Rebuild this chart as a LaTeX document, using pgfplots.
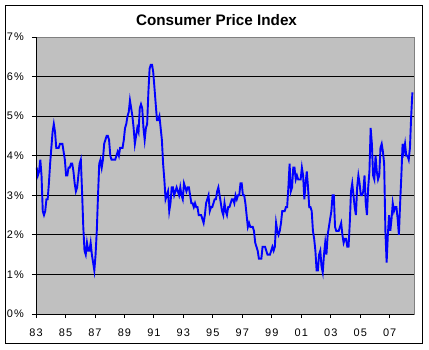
\documentclass[border=0pt]{standalone}
\usepackage{fontspec}
\setmainfont{Liberation Sans}
\newfontfamily\tickfont[LetterSpace=10]{Liberation Sans}
\usepackage{pgfplots}
\usepackage{pgfplotstable}
\pgfplotsset{compat=1.18}
\definecolor{plotgray}{RGB}{192,192,192}
\definecolor{bordergray}{RGB}{128,128,128}
\pgfplotstableread[row sep=\\]{
v\\
3.7\\3.5\\3.6\\3.9\\3.5\\2.6\\2.5\\2.6\\2.9\\2.9\\3.3\\3.8\\
4.2\\4.6\\4.8\\4.6\\4.2\\4.2\\4.2\\4.3\\4.3\\4.3\\4.1\\3.9\\
3.5\\3.5\\3.7\\3.7\\3.8\\3.8\\3.6\\3.3\\3.1\\3.2\\3.5\\3.8\\
3.9\\3.1\\2.2\\1.6\\1.5\\1.8\\1.6\\1.6\\1.8\\1.5\\1.3\\1.1\\
1.5\\2.1\\3.0\\3.8\\3.9\\3.7\\3.9\\4.3\\4.4\\4.5\\4.5\\4.4\\
4.0\\3.9\\3.9\\3.9\\3.9\\4.0\\4.1\\4.0\\4.2\\4.2\\4.2\\4.4\\
4.7\\4.8\\5.0\\5.1\\5.4\\5.2\\5.0\\4.7\\4.3\\4.5\\4.7\\4.6\\
5.2\\5.3\\5.2\\4.7\\4.4\\4.7\\4.8\\5.6\\6.2\\6.3\\6.3\\6.1\\
5.7\\5.3\\4.9\\4.9\\5.0\\4.7\\4.4\\3.8\\3.4\\2.9\\3.0\\3.1\\
2.6\\2.8\\3.2\\3.2\\3.0\\3.1\\3.2\\3.1\\3.0\\3.2\\3.0\\2.9\\
3.3\\3.2\\3.1\\3.2\\3.2\\3.0\\2.8\\2.8\\2.7\\2.8\\2.7\\2.7\\
2.5\\2.5\\2.5\\2.4\\2.3\\2.5\\2.8\\2.9\\3.0\\2.6\\2.7\\2.7\\
2.8\\2.9\\2.9\\3.1\\3.2\\3.0\\2.8\\2.6\\2.5\\2.8\\2.6\\2.5\\
2.7\\2.7\\2.8\\2.9\\2.9\\2.8\\3.0\\2.9\\3.0\\3.0\\3.3\\3.3\\
3.0\\3.0\\2.8\\2.5\\2.2\\2.3\\2.2\\2.2\\2.2\\2.1\\1.8\\1.7\\
1.6\\1.4\\1.4\\1.4\\1.7\\1.7\\1.7\\1.6\\1.5\\1.5\\1.5\\1.6\\
1.7\\1.6\\1.7\\2.3\\2.1\\2.0\\2.1\\2.3\\2.6\\2.6\\2.6\\2.7\\
2.7\\3.2\\3.8\\3.1\\3.2\\3.7\\3.7\\3.4\\3.5\\3.4\\3.4\\3.4\\
3.7\\3.5\\2.9\\3.3\\3.6\\3.2\\2.7\\2.7\\2.6\\2.1\\1.9\\1.6\\
1.1\\1.1\\1.5\\1.6\\1.2\\1.05\\1.5\\1.8\\1.5\\2.0\\2.2\\2.4\\
2.6\\3.0\\3.0\\2.2\\2.1\\2.1\\2.1\\2.2\\2.3\\2.0\\1.8\\1.9\\
1.9\\1.7\\1.7\\2.3\\3.1\\3.3\\3.0\\2.7\\2.5\\3.2\\3.5\\3.3\\
3.0\\3.0\\3.1\\3.5\\2.8\\2.5\\3.2\\3.6\\4.7\\4.3\\3.5\\3.4\\
4.0\\3.6\\3.4\\3.5\\4.2\\4.3\\4.1\\3.8\\2.1\\1.3\\2.0\\2.5\\
2.1\\2.4\\2.8\\2.6\\2.7\\2.7\\2.4\\2.0\\2.8\\3.5\\4.3\\4.1\\
4.3\\4.0\\4.0\\3.9\\4.2\\5.0\\5.6\\
}\cpidata
\begin{document}
\begin{tikzpicture}
\useasboundingbox (-36bp,-36bp) rectangle (393bp,314bp);
\fill[white] (-36bp,-36bp) rectangle (393bp,314bp);
\draw[black, line width=1bp] (-30.5bp,-29.5bp) rectangle (386.5bp,308.5bp);
\begin{axis}[
  at={(0,0)}, anchor=south west,
  scale only axis, width=378bp, height=277bp,
  xmin=1983, xmax=2008.65, ymin=0, ymax=7,
  xtick={1983,1985,...,2007},
  xticklabels={83,85,87,89,91,93,95,97,99,01,03,05,07},
  ytick={0,1,...,7},
  yticklabels={0\%,1\%,2\%,3\%,4\%,5\%,6\%,7\%},
  ymajorgrids,
  major grid style={black, line width=0.8bp},
  axis background/.style={fill=plotgray},
  axis line style={bordergray, line width=0.8bp},
  tick align=outside, tick pos=left,
  major tick length=4bp,
  tick style={black, line width=0.8bp},
  ticklabel style={font=\tickfont\fontsize{11}{13}\selectfont},
  yticklabel style={anchor=east, inner sep=0pt, xshift=-8bp},
  xticklabel style={anchor=north, inner sep=0pt, yshift=-11bp},
]
\addplot[blue, line width=1.9bp] table[x expr={1983+(\coordindex+0.5)/12}, y=v]{\cpidata};
\draw[black, line width=0.8bp] (rel axis cs:0,0) -- (rel axis cs:0,1);
\draw[black, line width=0.8bp] (rel axis cs:0,0) -- (rel axis cs:1,0);
\end{axis}
\node[font=\bfseries\fontsize{15.3}{18}\selectfont] at (180.5bp,293.5bp) {Consumer Price Index};
\end{tikzpicture}
\end{document}
